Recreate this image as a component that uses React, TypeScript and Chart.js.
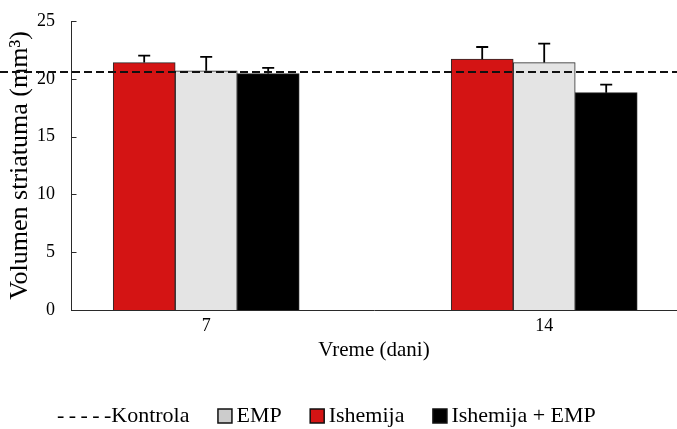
import React, { useEffect, useRef } from "react";
import { Chart, registerables } from "chart.js";

Chart.register(...registerables);

// ---- data ----
const GROUPS = [7, 14];
const ISHEMIJA = [21.4, 21.7];
const ISHEMIJA_ERR = [0.6, 1.05];
const EMP = [20.7, 21.4];
const EMP_ERR = [1.2, 1.65];
const ISHEMIJA_EMP = [20.45, 18.8];
const ISHEMIJA_EMP_ERR = [0.5, 0.7];
const KONTROLA = 20.6;
const Y_TICKS = [0, 5, 10, 15, 20, 25];

const LEGEND_LABELS = ["-\u2009-\u2009-\u2009-\u2009-Kontrola", "EMP", "Ishemija", "Ishemija + EMP"];

const FONT = "'Liberation Serif', 'Times New Roman', serif";
const RED = "#d41414";
const GRAY = "#e4e4e4";
const BLACK = "#000000";
const EDGE = "#2a2a2a";

const overlayPlugin = {
  id: "overlay",
  afterDatasetsDraw(chart: any) {
    const ctx = chart.ctx;
    const y = chart.scales.y;
    ctx.save();
    // inward tick marks on y axis
    ctx.strokeStyle = EDGE;
    ctx.lineWidth = 1;
    const ax = Math.round(chart.chartArea.left) + 0.5;
    y.ticks.forEach((t: any) => {
      const py = Math.round(y.getPixelForValue(t.value)) + 0.5;
      ctx.beginPath();
      ctx.moveTo(ax, py);
      ctx.lineTo(ax + 5, py);
      ctx.stroke();
    });
    // error bars
    ctx.strokeStyle = "#000";
    ctx.lineWidth = 1.8;
    chart.data.datasets.forEach((ds: any, di: number) => {
      const meta = chart.getDatasetMeta(di);
      meta.data.forEach((bar: any, i: number) => {
        const v = ds.data[i].y;
        const top = y.getPixelForValue(v + ds.errors[i]);
        ctx.beginPath();
        ctx.moveTo(bar.x, bar.y);
        ctx.lineTo(bar.x, top);
        ctx.moveTo(bar.x - 6, top);
        ctx.lineTo(bar.x + 6, top);
        ctx.stroke();
      });
    });
    // Kontrola reference line
    const yk = Math.round(y.getPixelForValue(KONTROLA));
    ctx.beginPath();
    ctx.setLineDash([8, 4]);
    ctx.lineWidth = 2;
    ctx.strokeStyle = "#111";
    ctx.moveTo(0, yk);
    ctx.lineTo(chart.width, yk);
    ctx.stroke();
    ctx.restore();
  },
};

export default function App() {
  const ref = useRef<HTMLCanvasElement | null>(null);

  useEffect(() => {
    if (!ref.current) return;
    const mk = (arr: number[]) => GROUPS.map((g, i) => ({ x: g, y: arr[i] }));
    const chart = new Chart(ref.current, {
      type: "bar",
      data: {
        datasets: [
          { label: "Ishemija", data: mk(ISHEMIJA), errors: ISHEMIJA_ERR, backgroundColor: RED, borderColor: EDGE, borderWidth: 1, barThickness: 62 } as any,
          { label: "EMP", data: mk(EMP), errors: EMP_ERR, backgroundColor: GRAY, borderColor: EDGE, borderWidth: 1, barThickness: 62 } as any,
          { label: "Ishemija + EMP", data: mk(ISHEMIJA_EMP), errors: ISHEMIJA_EMP_ERR, backgroundColor: BLACK, borderColor: EDGE, borderWidth: 1, barThickness: 62 } as any,
        ],
      },
      options: {
        animation: false,
        responsive: false,
        devicePixelRatio: 1,
        layout: { padding: { left: 10, right: 0, top: 21, bottom: -8 } },
        scales: {
          x: {
            type: "linear",
            min: 4.2,
            max: 16.75,
            offset: false,
            grid: { display: false, drawTicks: false },
            border: { color: EDGE, width: 1 },
            ticks: {
              font: { family: FONT, size: 18 },
              color: "#000",
              padding: 5,
              callback: (v: any) => String(v),
            },
            afterBuildTicks: (s: any) => {
              s.ticks = GROUPS.map((v) => ({ value: v }));
            },
            afterFit: (s: any) => {
              s.height = 60;
            },
            title: {
              display: true,
              text: "Vreme (dani)",
              font: { family: FONT, size: 21 },
              color: "#000",
              padding: { top: 0, bottom: 7 },
            },
          } as any,
          y: {
            min: 0,
            max: 25,
            grid: { display: false, drawTicks: true, tickLength: 16 },
            border: { color: EDGE, width: 1 },
            ticks: {
              font: { family: FONT, size: 18 },
              color: "#000",
              padding: 0,
              stepSize: 5,
            },
            afterBuildTicks: (s: any) => {
              s.ticks = Y_TICKS.map((v) => ({ value: v }));
            },
            afterFit: (s: any) => {
              s.width = 61;
            },
            title: {
              display: true,
              text: "Volumen striatuma (mm³)",
              font: { family: FONT, size: 26, lineHeight: 1 },
              color: "#000",
              padding: { top: -3, bottom: 0 },
            },
          } as any,
        },
        plugins: {
          tooltip: { enabled: false },
          legend: {
            position: "bottom",
            align: "start",
            labels: {
              usePointStyle: true,
              boxWidth: 1,
              boxHeight: 14,
              padding: 35,
              color: "#000",
              font: { family: FONT, size: 22 },
              generateLabels: () => [
                { text: LEGEND_LABELS[0], fillStyle: "rgba(0,0,0,0)", strokeStyle: "rgba(0,0,0,0)", lineWidth: 0, pointStyle: "rect", hidden: false },
                { text: LEGEND_LABELS[1], fillStyle: "#cccccc", strokeStyle: "#111", lineWidth: 1.5, pointStyle: "rect", hidden: false, datasetIndex: 1 },
                { text: LEGEND_LABELS[2], fillStyle: RED, strokeStyle: "#111", lineWidth: 1.5, pointStyle: "rect", hidden: false, datasetIndex: 0 },
                { text: LEGEND_LABELS[3], fillStyle: BLACK, strokeStyle: "#111", lineWidth: 1.5, pointStyle: "rect", hidden: false, datasetIndex: 2 },
              ],
            },
          } as any,
        },
      },
      plugins: [overlayPlugin],
    } as any);
    return () => chart.destroy();
  }, []);

  return (
    <div style={{ position: "absolute", left: 0, top: 0, width: 677, height: 429, background: "#fff" }}>
      <canvas ref={ref} width={677} height={429} style={{ display: "block" }} />
    </div>
  );
}
